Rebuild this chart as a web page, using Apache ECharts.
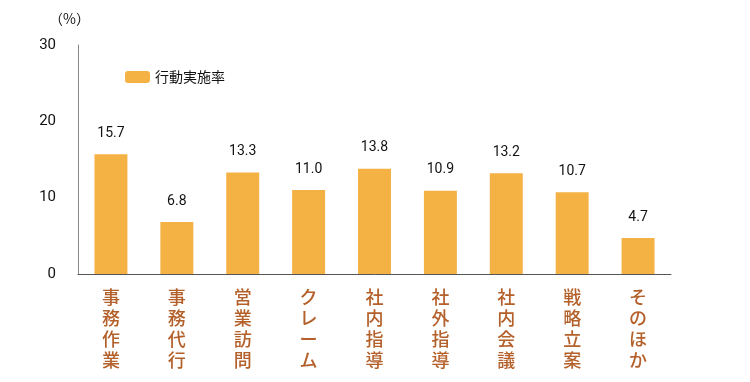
<!DOCTYPE html>
<html><head><meta charset="utf-8">
<script src="https://cdn.jsdelivr.net/npm/echarts@6/dist/echarts.min.js"></script>
<style>html,body{margin:0;padding:0;background:#fff}#c{width:750px;height:382px}</style>
</head><body><div id="c"></div>
<script>
const categories = ['事務作業','事務代行','営業訪問','クレーム','社内指導','社外指導','社内会議','戦略立案','そのほか'];
const values = [15.7, 6.8, 13.3, 11.0, 13.8, 10.9, 13.2, 10.7, 4.7];
const seriesName = '行動実施率';
const yTicks = {min: 0, max: 30, interval: 10};
const font = '"Noto Sans CJK JP", "Noto Sans", sans-serif';
const numFont = 'Roboto, "Noto Sans CJK JP", sans-serif';
const chart = echarts.init(document.getElementById('c'));
chart.setOption({
  animation: false,
  textStyle: {fontFamily: font},
  legend: {
    left: 120, top: 65, itemWidth: 25, itemHeight: 12, itemGap: 8,
    textStyle: {fontSize: 14, color: '#111', fontFamily: font},
    data: [seriesName]
  },
  grid: {left: 78, right: 79, top: 45, bottom: 108},
  xAxis: {
    type: 'category', data: categories,
    axisLine: {lineStyle: {color: '#555', width: 1}},
    axisTick: {show: false},
    axisLabel: {
      interval: 0, margin: 13, color: '#B4602A', fontSize: 18, lineHeight: 21,
      fontFamily: font, fontWeight: 500,
      formatter: v => v.split('').join('\n')
    }
  },
  yAxis: {
    type: 'value', min: yTicks.min, max: yTicks.max, interval: yTicks.interval,
    name: '（%）', nameLocation: 'end', nameGap: 19,
    nameTextStyle: {fontSize: 14, color: '#111', align: 'right', padding: [0, -12, 0, 0], fontFamily: font},
    axisLine: {show: true, lineStyle: {color: '#888'}},
    axisTick: {show: false},
    splitLine: {show: false},
    axisLabel: {margin: 22, fontSize: 15, color: '#111', fontFamily: numFont}
  },
  series: [{
    name: seriesName, type: 'bar', data: values, barWidth: '50%',
    itemStyle: {color: '#F4B144'},
    label: {show: true, position: 'top', distance: 14, fontSize: 14, color: '#111', fontFamily: numFont,
      formatter: p => p.value.toFixed(1)}
  }]
});
</script></body></html>
